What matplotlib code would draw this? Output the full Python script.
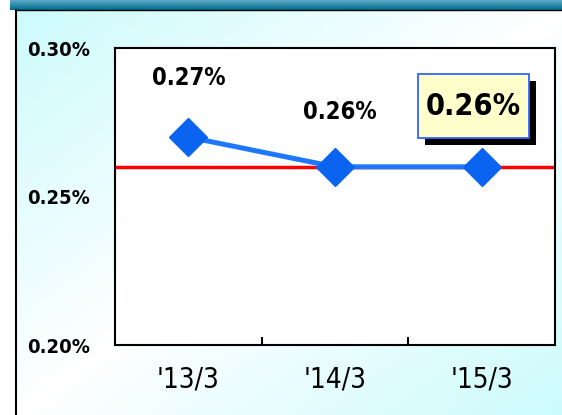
import numpy as np
import matplotlib.pyplot as plt
import matplotlib.patheffects as pe
from matplotlib.patches import Rectangle
from matplotlib.colors import LinearSegmentedColormap

periods = ["'13/3", "'14/3", "'15/3"]
ratios = [0.27, 0.26, 0.26]
target = 0.26
point_labels = ["0.27%", "0.26%", "0.26%"]

plt.rcParams['font.family'] = ['DejaVu Sans']
plt.rcParams['font.stretch'] = 'condensed'

fig = plt.figure(figsize=(5.62, 4.15), dpi=100)

# background panel with diagonal gradient
bg = fig.add_axes([0, 0, 1, 1])
bg.set_xlim(0, 562)
bg.set_ylim(415, 0)
bg.axis('off')
yy, xx = np.mgrid[0:415, 0:562]
t = (xx / 562 + yy / 415) / 2
grad = np.abs(t - 0.5) * 2
cmap = LinearSegmentedColormap.from_list('bgc', ['#ffffff', '#ccfbfc'])
bg.imshow(grad, cmap=cmap, extent=[16, 562, 415, 10], aspect='auto')
tcmap = LinearSegmentedColormap.from_list('bar', ['#5aa6c4', '#00708e'])
bar = np.linspace(0, 1, 10)[:, None] * np.ones((1, 50))
bg.imshow(bar, cmap=tcmap, extent=[10, 562, 10, 0], aspect='auto')
bg.plot([16, 16], [10, 415], color='black', lw=1.5)
bg.plot([16, 562], [10, 10], color='black', lw=1)

ax = fig.add_axes([115 / 562, 1 - 345 / 415, 440 / 562, 297 / 415])
ax.set_facecolor('white')
x = np.arange(len(periods))
ax.set_xlim(-0.5, 2.5)
ax.set_ylim(0.20, 0.30)
ax.axhline(target, color='#ff0000', lw=2.5, zorder=2)
ax.plot(x, ratios, color='#1e78ff', lw=3.6, marker='D', markersize=19.5,
        markerfacecolor='#0a64f0', markeredgecolor='#0a64f0', zorder=3)

for sp in ax.spines.values():
    sp.set_linewidth(1.5)
ax.set_yticks([0.20, 0.25, 0.30])
ax.set_yticklabels(['0.20%', '0.25%', '0.30%'], fontsize=14.5, fontweight='bold')
ax.tick_params(axis='y', length=0, pad=18)
ax.set_xticks(x)
ax.set_xticklabels(periods, fontsize=20)
ax.tick_params(axis='x', length=0, pad=15)
ax.set_xticks([0.5, 1.5], minor=True)
ax.tick_params(axis='x', which='minor', direction='in', length=6, width=1.5)

ax.text(x[0], 0.2899, point_labels[0], ha='center', va='center', fontsize=17, fontweight='bold')
ax.text(x[1] + 0.03, 0.2785, point_labels[1], ha='center', va='center', fontsize=17, fontweight='bold')

# highlighted latest value
box = Rectangle((0.689, 0.697), 0.252, 0.215, transform=ax.transAxes,
                facecolor='#ffffcc', edgecolor='#3366ff', lw=1.3, zorder=4,
                path_effects=[pe.withSimplePatchShadow(offset=(5, -5), shadow_rgbFace='black', alpha=1)])
ax.add_patch(box)
ax.text(0.815, 0.8045, point_labels[2], transform=ax.transAxes, ha='center', va='center',
        fontsize=22, fontweight='bold', zorder=5)

fig.savefig('out.png', dpi=100)
